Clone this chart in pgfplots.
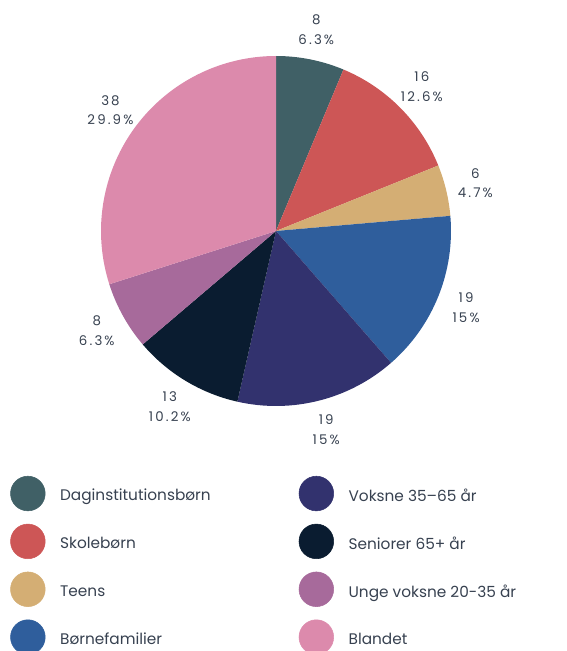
\documentclass[border=0pt]{standalone}
\usepackage{pgfplots}
\usepackage{pgfplotstable}
\pgfplotsset{compat=1.18}
\usepackage{fontspec}
\setmainfont{Poppins}

\definecolor{pie0}{RGB}{64,96,102}
\definecolor{pie1}{RGB}{205,86,86}
\definecolor{pie2}{RGB}{212,174,116}
\definecolor{pie3}{RGB}{47,94,156}
\definecolor{pie4}{RGB}{50,50,110}
\definecolor{pie5}{RGB}{10,28,48}
\definecolor{pie6}{RGB}{167,106,155}
\definecolor{pie7}{RGB}{220,138,172}
\definecolor{txtc}{RGB}{55,65,80}

% antal pr. maalgruppe, med uret fra kl. 12
\pgfplotstableread{
value
8
16
6
19
19
13
8
38
}\piedata

\begin{document}
\begin{tikzpicture}
\gdef\pietotal{0}%
\pgfplotstableforeachcolumnelement{value}\of\piedata\as\v{%
  \pgfmathparse{\pietotal+\v}\xdef\pietotal{\pgfmathresult}}%
\gdef\piecum{0}%
\pgfplotstableforeachcolumnelement{value}\of\piedata\as\v{%
  \pgfmathsetmacro\sa{90-\piecum/\pietotal*360}%
  \pgfmathparse{\piecum+\v}\xdef\piecum{\pgfmathresult}%
  \pgfmathsetmacro\ea{90-\piecum/\pietotal*360}%
  \pgfmathsetmacro\ma{(\sa+\ea)/2}%
  \pgfmathsetmacro\pc{\v/\pietotal*100}%
  \expandafter\xdef\csname pieS\pgfplotstablerow\endcsname{\sa}%
  \expandafter\xdef\csname pieE\pgfplotstablerow\endcsname{\ea}%
  \expandafter\xdef\csname pieM\pgfplotstablerow\endcsname{\ma}%
  \expandafter\xdef\csname pieP\pgfplotstablerow\endcsname{\pc}%
  \expandafter\xdef\csname pieV\pgfplotstablerow\endcsname{\v}%
}%
\begin{axis}[
  hide axis, clip=false,
  x=0.75pt, y=0.75pt,
  xmin=0, xmax=567, ymin=0, ymax=651,
  legend image code/.code={\fill[#1] (13pt,1.9pt) circle[radius=13pt];},
  legend columns=4, transpose legend,
  legend cell align=left,
  legend style={at={(axis cs:6,178)}, anchor=north west,
    draw=none, fill=none, text=txtc,
    font=\fontsize{11.5}{13}\selectfont,
    row sep=9.5pt, column sep=9pt,
    /tikz/every even column/.append style={column sep=64pt}},
]
\coordinate (bl) at (axis cs:0,0);
\coordinate (tr) at (axis cs:567,651);
\pgfplotsinvokeforeach{0,...,7}{
  \fill[pie#1] (axis cs:276,420) -- ++(\csname pieS#1\endcsname:131.25pt)
    arc[start angle=\csname pieS#1\endcsname, end angle=\csname pieE#1\endcsname, radius=131.25pt] -- cycle;
  \node[align=center, text=txtc, font=\fontsize{10}{14.8}\selectfont\addfontfeatures{LetterSpace=16}]
    at (axis cs:{276+205*cos(\csname pieM#1\endcsname)},{420+205*sin(\csname pieM#1\endcsname)})
    {\csname pieV#1\endcsname\\\pgfmathprintnumber[fixed,precision=1,assume math mode=true]{\csname pieP#1\endcsname}\%};
}
\addlegendimage{pie0}\addlegendentry{Daginstitutionsbørn}
\addlegendimage{pie1}\addlegendentry{Skolebørn}
\addlegendimage{pie2}\addlegendentry{Teens}
\addlegendimage{pie3}\addlegendentry{Børnefamilier}
\addlegendimage{pie4}\addlegendentry{Voksne 35–65 år}
\addlegendimage{pie5}\addlegendentry{Seniorer 65+ år}
\addlegendimage{pie6}\addlegendentry{Unge voksne 20-35 år}
\addlegendimage{pie7}\addlegendentry{Blandet}
\end{axis}
\pgfresetboundingbox
\path (bl) rectangle (tr);
\end{tikzpicture}
\end{document}
